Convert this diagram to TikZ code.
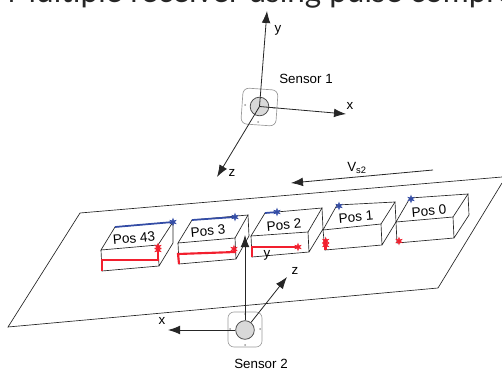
\documentclass[tikz,border=0pt]{standalone}
\usepackage{fontspec}
\setmainfont{Liberation Sans}
\newfontfamily\titlefont{Lato}
\usetikzlibrary{shapes.geometric,arrows.meta}
\definecolor{trackred}{rgb}{0.95,0.12,0.18}
\definecolor{trackblue}{rgb}{0.2,0.3,0.65}
\tikzset{
  axis/.style={draw=black!85,line width=0.6pt,-{Latex[length=9pt,width=6.5pt]}},
  face/.style={draw=black!85,line width=0.5pt},
  lab/.style={inner sep=0.75pt,font=\fontsize{10}{12}\selectfont},
  poslab/.style={inner sep=0.75pt,font=\fontsize{10.2}{12}\selectfont,rotate=5},
  redline/.style={draw=trackred,line width=1.6pt},
  blueline/.style={draw=trackblue,line width=1.3pt},
  redstar/.style={star,star points=6,star point ratio=2.4,minimum size=5.5pt,inner sep=0pt,draw=trackred,fill=trackred,line width=0.3pt},
  bluestar/.style={star,star points=6,star point ratio=2.4,minimum size=5.5pt,inner sep=0pt,draw=trackblue,fill=trackblue,line width=0.3pt},
  lens/.style={circle,draw=black!70,fill=black!15,line width=0.6pt,minimum size=14pt,inner sep=0pt},
  housing/.style={draw=black!40,line width=0.5pt,rounded corners=4.5pt},
  pin/.style={circle,fill=black!40,minimum size=1.5pt,inner sep=0pt},
}
\begin{document}
\begin{tikzpicture}[x=0.75pt,y=0.75pt,yscale=-1,xscale=1]
\useasboundingbox (0,0) rectangle (502,370);

% Title
\node [anchor=base west,inner sep=0pt,font=\fontsize{23.6}{28}\titlefont,text=black!85] (title) at (7,2.5) {Multiple receiver using pulse compression};

%Shape: Plane
\draw [face] (502,177) -- (80,213) -- (8,327) -- (438,288) -- (502,183) ;

%Shape: Boxes
% Pos 43
\draw [face] (101,250) -- (115,227) -- (173,222) -- (158,245) -- cycle ;
\draw [face] (101,250) -- (102,271) -- (159,266) -- (158,245) (159,266) -- (173,243) -- (173,222) ;
% Pos 3
\draw [face] (178,243) -- (192,220) -- (248,215) -- (235,238) -- cycle ;
\draw [face] (178,243) -- (179,264) -- (236,259) -- (235,238) (236,259) -- (249,236) -- (248,215) ;
% Pos 2
\draw [face] (251,236) -- (265,213) -- (322,208) -- (308,232) -- cycle ;
\draw [face] (251,236) -- (252,257) -- (309,252) -- (308,232) (309,252) -- (323,229) -- (322,208) ;
% Pos 1
\draw [face] (323,230) -- (337,205) -- (395,202) -- (381,224) -- cycle ;
\draw [face] (323,230) -- (325,250) -- (382,245) -- (381,224) (382,245) -- (396,222) -- (395,202) ;
% Pos 0
\draw [face] (396,222) -- (410,198) -- (468,194) -- (453,217) -- cycle ;
\draw [face] (396,222) -- (397,243) -- (454,238) -- (453,217) (454,238) -- (469,215) -- (468,194) ;

%Shape: Tracks
\draw [blueline] (115,227) -- (173,222) ;
\draw [blueline] (192,220) -- (235,217) ;
\draw [blueline] (265,213) -- (278,212) ;
\draw [redline] (102,271) -- (102,260) -- (158,260) -- (158,247) ;
\draw [redline] (179,264) -- (178,254) -- (235,252) -- (235,249) ;
\draw [redline] (252,257) -- (252,247) -- (298,247) ;
\draw [redline] (325.5,250) -- (325.5,240) ;

%Shape: Stars
\node [bluestar] (b43) at (173,222) {};
\node [bluestar] (b3) at (235,217) {};
\node [bluestar] (b2) at (277,212) {};
\node [bluestar] (b1) at (339,206) {};
\node [bluestar] (b0) at (411,199) {};
\node [redstar] (r43a) at (158,247) {};
\node [redstar] (r43b) at (158,250) {};
\node [redstar] (r3) at (234,249) {};
\node [redstar] (r2) at (298,247) {};
\node [redstar] (r1a) at (325.7,241) {};
\node [redstar] (r1b) at (325.7,245) {};
\node [redstar] (r0) at (399,241) {};

% Text Node
\node [poslab] (pos43) at (134,238) {Pos 43};
\node [poslab] (pos3) at (208,231) {Pos 3};
\node [poslab] (pos2) at (284,225) {Pos 2};
\node [poslab] (pos1) at (356,217) {Pos 1};
\node [poslab] (pos0) at (429,211) {Pos 0};

%Shape: Sensor 1
\draw [housing,rotate around={4:(259.5,106.5)}] (242,89) rectangle (277,125) ;
\node [pin] (pinonea) at (245,105) {};
\node [pin] (pinoneb) at (258,122) {};
\node [pin] (pinonec) at (274,108) {};
\node [lens] (sensorone) at (259.5,106.5) {};
\coordinate (oney) at (267,11);
\coordinate (onex) at (346,114);
\coordinate (onez) at (217,177);
\draw [axis] (sensorone.center) -- (oney);
\draw [axis] (sensorone.center) -- (onex);
\draw [axis] (sensorone.center) -- (onez);

%Shape: Sensor 2
\draw [housing] (228,312) rectangle (262,347) ;
\node [pin] (pintwoa) at (230,329) {};
\node [pin] (pintwob) at (260,329) {};
\node [pin] (pintwoc) at (245,345) {};
\node [pin] (pintwod) at (245,314) {};
\node [lens] (sensortwo) at (245,330) {};
\coordinate (twox) at (168,330);
\coordinate (twoy) at (245,235);
\coordinate (twoz) at (287,277);
\draw [axis] (sensortwo) -- (twox);
\draw [axis] (sensortwo) -- (twoy);
\draw [axis] (sensortwo) -- (twoz);

%Shape: Motion arrow
\coordinate (vstart) at (433,170);
\coordinate (vend) at (291,183);
\draw [axis] (vstart) -- (vend);

% Text Node
\node [lab] (ylabone) at (278,30) {y};
\node [lab] (xlabone) at (350,106) {x};
\node [lab] (zlabone) at (232,173) {z};
\node [lab] (nameone) at (306,79) {Sensor 1};
\node [lab] (vlabel) at (357,168) {V\textsubscript{s2}};
\node [lab] (ylabtwo) at (267,255) {y};
\node [lab] (zlabtwo) at (295,271) {z};
\node [lab] (xlabtwo) at (162,321) {x};
\node [lab,anchor=base] (nametwo) at (261,368) {Sensor 2};
\end{tikzpicture}
\end{document}
